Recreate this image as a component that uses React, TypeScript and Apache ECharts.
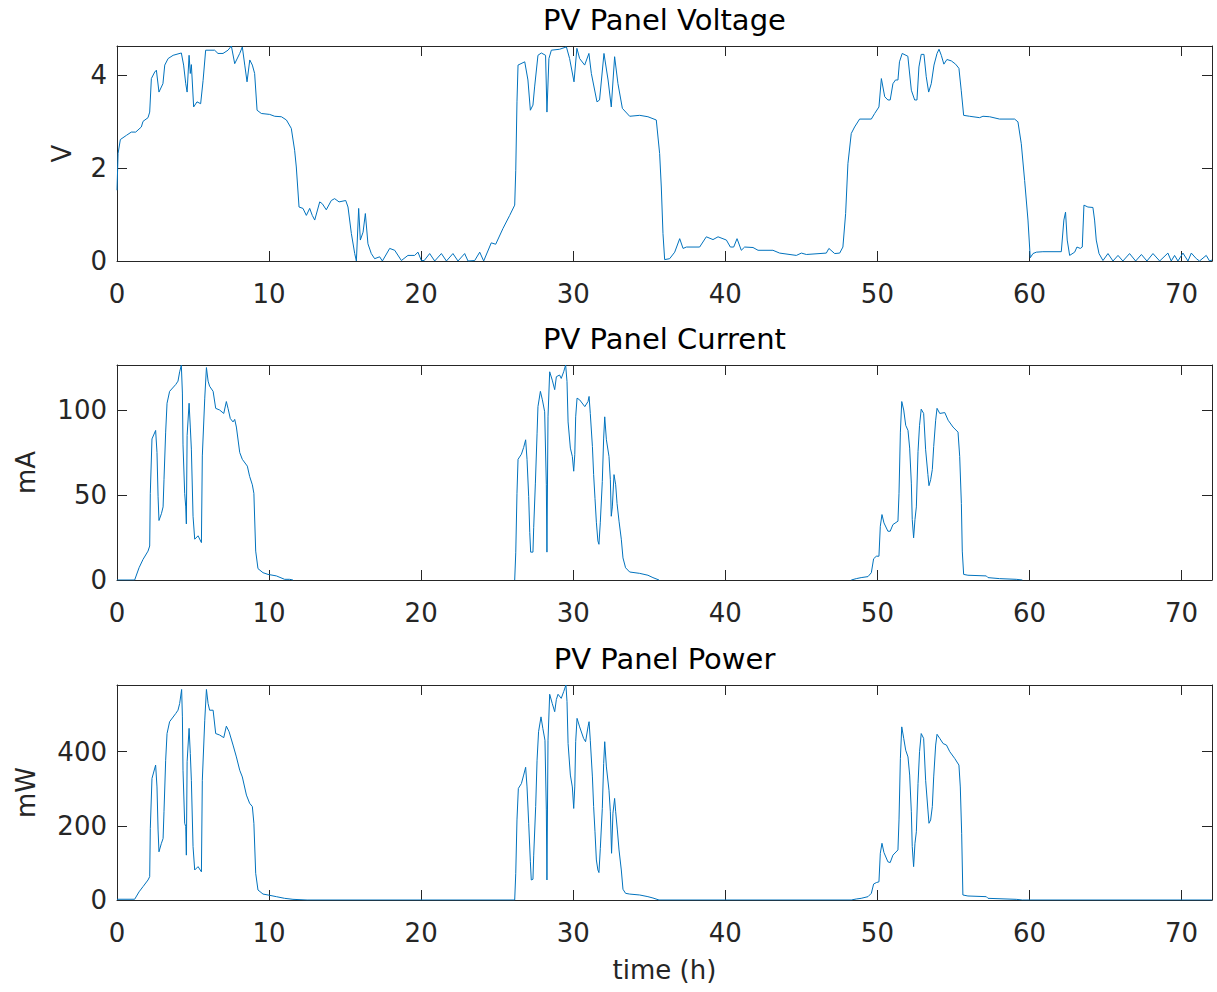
import React, { useEffect, useRef } from "react";
import * as echarts from "echarts";

// ---------- data ----------
const xTicks = [0, 10, 20, 30, 40, 50, 60, 70];
const titles = ["PV Panel Voltage", "PV Panel Current", "PV Panel Power"];
const yNames = ["V", "mA", "mW"];
const yMax = [4.62, 126.5, 580];
const yInterval = [2, 50, 200];

// Voltage [time h, V]
const voltage: [number, number][] = [
  [0, 1.52], [0.07, 2.31], [0.22, 2.61], [0.62, 2.7], [0.94, 2.77], [1.23, 2.77], [1.6, 2.88], [1.71, 3.0],
  [2.04, 3.08], [2.15, 3.2], [2.26, 3.92], [2.48, 4.06], [2.59, 4.1], [2.76, 3.63], [3.02, 3.81], [3.14, 4.21],
  [3.36, 4.35], [3.69, 4.42], [4.23, 4.47], [4.38, 4.21], [4.52, 3.81], [4.61, 3.63], [4.74, 4.42], [4.82, 4.03],
  [4.89, 4.22], [5.04, 3.31], [5.26, 3.42], [5.5, 3.38], [5.66, 3.88], [5.83, 4.53], [6.42, 4.53], [6.64, 4.46],
  [6.97, 4.46], [7.3, 4.53], [7.52, 4.62], [7.74, 4.24], [8.07, 4.46], [8.24, 4.6], [8.4, 4.21], [8.55, 3.85],
  [8.73, 4.32], [8.9, 4.21], [9.05, 4.03], [9.21, 3.24], [9.49, 3.17], [10.04, 3.15], [10.37, 3.11], [10.81, 3.1],
  [11.14, 3.03], [11.46, 2.85], [11.68, 2.38], [11.79, 2.02], [11.97, 1.16], [12.23, 1.13], [12.45, 0.98], [12.67, 1.13],
  [12.84, 0.98], [13.0, 0.88], [13.33, 1.27], [13.5, 1.23], [13.76, 1.1], [14.09, 1.3], [14.31, 1.34], [14.6, 1.27],
  [15.04, 1.3], [15.19, 1.16], [15.41, 0.59], [15.63, 0.16], [15.74, 0], [15.89, 1.13], [16.0, 0.45], [16.18, 0.62],
  [16.33, 1.02], [16.5, 0.37], [16.72, 0.16], [16.94, 0.05], [17.27, 0.09], [17.45, 0], [17.93, 0.27], [18.26, 0.23],
  [18.7, 0.01], [19.13, 0.12], [19.57, 0.12], [19.79, 0.19], [20.01, 0.01], [20.2, 0.01], [20.56, 0.16], [20.89, 0],
  [21.33, 0.16], [21.66, 0], [22.09, 0.16], [22.42, 0], [22.86, 0.16], [23.08, 0], [23.52, 0.01], [23.85, 0.19],
  [24.11, 0], [24.61, 0.39], [24.9, 0.36], [25.38, 0.7], [25.82, 0.98], [26.15, 1.2], [26.22, 1.95], [26.3, 3.42],
  [26.37, 4.21], [26.81, 4.28], [27.02, 3.89], [27.18, 3.24], [27.35, 3.35], [27.46, 3.74], [27.68, 4.42], [27.9, 4.47],
  [28.18, 4.42], [28.27, 3.2], [28.4, 4.35], [28.56, 4.53], [29.1, 4.55], [29.55, 4.6], [29.76, 4.35], [30.05, 3.85],
  [30.24, 4.57], [30.42, 4.35], [30.75, 4.21], [31.03, 4.46], [31.19, 4.03], [31.56, 3.42], [31.73, 3.46], [32.02, 4.46],
  [32.29, 3.89], [32.5, 3.31], [32.72, 4.39], [32.94, 3.81], [33.23, 3.28], [33.71, 3.11], [34.37, 3.13], [34.91, 3.1],
  [35.46, 3.03], [35.68, 2.31], [35.79, 1.59], [35.9, 0.59], [36.01, 0.03], [36.34, 0.05], [36.67, 0.19], [37.0, 0.48],
  [37.22, 0.27], [37.44, 0.3], [38.31, 0.3], [38.75, 0.52], [39.19, 0.46], [39.52, 0.52], [40.07, 0.45], [40.33, 0.3],
  [40.55, 0.3], [40.77, 0.48], [41.05, 0.23], [41.27, 0.3], [41.82, 0.29], [42.15, 0.23], [43.13, 0.23], [43.57, 0.17],
  [44.67, 0.12], [45.0, 0.17], [45.33, 0.14], [46.64, 0.17], [46.81, 0.27], [47.19, 0.16], [47.52, 0.17], [47.73, 0.3],
  [47.91, 1.02], [48.06, 2.09], [48.28, 2.74], [48.5, 2.88], [48.83, 3.05], [49.6, 3.05], [49.82, 3.17], [50.1, 3.31],
  [50.26, 3.92], [50.48, 3.53], [50.69, 3.46], [50.84, 3.46], [51.02, 3.81], [51.19, 3.89], [51.35, 3.89], [51.45, 4.28],
  [51.63, 4.46], [52.0, 4.4], [52.23, 3.67], [52.45, 3.46], [52.6, 3.46], [52.73, 4.17], [52.88, 4.44], [53.06, 4.44],
  [53.21, 3.96], [53.37, 3.63], [53.54, 3.81], [53.72, 4.21], [53.92, 4.46], [54.05, 4.55], [54.2, 4.42], [54.37, 4.23],
  [54.57, 4.33], [54.86, 4.3], [55.14, 4.23], [55.36, 4.14], [55.51, 3.67], [55.67, 3.13], [56.06, 3.11], [56.72, 3.08],
  [56.94, 3.11], [57.38, 3.1], [58.03, 3.05], [59.02, 3.05], [59.24, 2.99], [59.46, 2.52], [59.68, 1.73], [59.9, 0.88],
  [60.05, 0.07], [60.23, 0.16], [60.45, 0.19], [60.88, 0.2], [62.09, 0.2], [62.26, 0.88], [62.37, 1.05], [62.48, 0.45],
  [62.64, 0.12], [62.97, 0.19], [63.12, 0.3], [63.34, 0.27], [63.47, 0.3], [63.58, 1.2], [63.84, 1.16], [64.17, 1.15],
  [64.28, 0.88], [64.39, 0.45], [64.57, 0.16], [64.83, 0.01], [65.16, 0.16], [65.49, 0], [65.82, 0.12], [66.14, 0],
  [66.58, 0.16], [66.98, 0], [67.36, 0.14], [67.72, 0], [68.12, 0.16], [68.56, 0], [69.1, 0.17], [69.32, 0],
  [69.54, 0.12], [69.76, 0], [70.09, 0.17], [70.42, 0], [70.64, 0.17], [70.97, 0.05], [71.18, 0], [71.62, 0.12],
  [71.84, 0], [72.0, 0.02],
];

// Current [time h, mA]; null = no sample drawn
const current: [number, number | null][] = [
  [0, 0], [1.16, 0], [1.45, 7.2], [1.71, 12.1], [2.04, 17], [2.15, 20], [2.19, 51], [2.3, 83], [2.54, 88], [2.63, 75],
  [2.7, 49], [2.76, 35], [2.92, 39], [3.03, 43], [3.09, 59], [3.2, 87], [3.29, 104], [3.46, 111], [3.86, 115], [4.01, 117],
  [4.12, 122.5], [4.23, 126.4], [4.3, 110], [4.34, 79.5], [4.45, 51], [4.52, 43], [4.56, 33], [4.61, 85], [4.74, 104],
  [4.82, 90], [4.89, 77], [5.0, 37.5], [5.11, 24], [5.33, 26], [5.55, 22], [5.61, 73], [5.77, 107], [5.88, 125],
  [5.99, 117], [6.09, 114], [6.32, 111], [6.49, 101], [6.75, 100], [7.02, 98], [7.19, 105], [7.3, 101], [7.45, 95],
  [7.63, 93], [7.74, 94.5], [7.85, 90], [8.07, 75], [8.24, 71], [8.57, 67], [8.72, 61], [8.9, 56], [9.0, 51], [9.12, 17],
  [9.27, 6.7], [9.6, 4.3], [9.93, 3.3], [10.48, 2.4], [11.02, 0.4], [11.35, 0.4], [11.57, 0],
  [18, null],
  [26.15, 0], [26.22, 16], [26.3, 51], [26.37, 71], [26.59, 74], [26.74, 78], [26.87, 82.5], [26.96, 71], [27.07, 49],
  [27.14, 28], [27.2, 16.4], [27.35, 16.4], [27.4, 31], [27.51, 57], [27.62, 86], [27.68, 102], [27.84, 111], [27.97, 106],
  [28.12, 99], [28.23, 56], [28.27, 16.4], [28.34, 96], [28.45, 122.5], [28.62, 117.6], [28.78, 112], [28.89, 119.6],
  [29.1, 120.6], [29.21, 118.6], [29.37, 122.5], [29.5, 126.5], [29.59, 116.7], [29.66, 93], [29.81, 77.6], [29.94, 72.7],
  [30.03, 64], [30.1, 73.7], [30.16, 96], [30.25, 107], [30.42, 106], [30.76, 102], [30.97, 105], [31.04, 108], [31.12, 98],
  [31.26, 78.5], [31.34, 62], [31.43, 48], [31.52, 34], [31.62, 23], [31.69, 21], [31.78, 34], [31.91, 58], [32.0, 83.5],
  [32.07, 96], [32.18, 82.5], [32.35, 72.7], [32.44, 59], [32.5, 37.5], [32.57, 43], [32.68, 62], [32.79, 56], [32.88, 45],
  [33.01, 34.6], [33.16, 24], [33.27, 13], [33.44, 7.2], [33.71, 4.7], [34.37, 3.9], [34.91, 2.8], [35.24, 1.4], [35.64, 0],
  [42, null],
  [48.28, 0], [48.61, 0.8], [48.93, 1.4], [49.38, 2], [49.6, 4.3], [49.75, 12.5], [49.93, 14], [50.1, 14], [50.19, 31.6],
  [50.3, 38.5], [50.43, 33.6], [50.69, 28.7], [50.84, 28.7], [51.02, 32.6], [51.35, 34.6], [51.42, 51], [51.51, 87],
  [51.6, 105], [51.73, 100], [51.86, 91], [52.01, 88], [52.12, 77.6], [52.23, 57], [52.29, 35.6], [52.38, 24.8],
  [52.47, 35.6], [52.56, 43], [52.67, 75.6], [52.77, 91], [52.88, 100.5], [53.04, 98], [53.17, 76.6], [53.32, 62],
  [53.39, 55.5], [53.5, 59], [53.61, 65], [53.7, 78.5], [53.83, 94], [53.92, 101], [54.1, 98], [54.43, 98.5], [54.65, 94],
  [54.97, 90], [55.3, 87], [55.41, 72.7], [55.52, 45], [55.58, 17], [55.67, 3.3], [55.95, 2.8], [57.16, 2.4], [57.27, 1.4],
  [58.03, 0.8], [59.13, 0.4], [59.53, 0],
];

// Power [time h, mW]
const power: [number, number][] = [
  [0, 2], [1.16, 2], [1.45, 22], [1.71, 36], [2.04, 54], [2.15, 63], [2.19, 193], [2.3, 328], [2.54, 364], [2.63, 305],
  [2.7, 189], [2.76, 130], [2.92, 153], [3.03, 166], [3.09, 238], [3.2, 377], [3.29, 449], [3.46, 481], [3.86, 503],
  [4.01, 512], [4.12, 530], [4.25, 568], [4.3, 494], [4.34, 350], [4.45, 207], [4.52, 198], [4.56, 121], [4.61, 373],
  [4.74, 463], [4.82, 395], [4.89, 323], [5.0, 144], [5.11, 81], [5.33, 90], [5.55, 76], [5.61, 323], [5.77, 485],
  [5.88, 568], [5.99, 530], [6.09, 512], [6.32, 512], [6.49, 449], [6.75, 445], [7.02, 438], [7.19, 469], [7.37, 454],
  [7.63, 418], [7.85, 386], [8.07, 350], [8.24, 332], [8.51, 283], [8.72, 261], [8.9, 252], [9.0, 207], [9.12, 72],
  [9.27, 27], [9.6, 16], [9.93, 13.5], [10.48, 9], [11.02, 4.5], [11.57, 1.8], [12.5, 0], [26.15, 0],
  [26.22, 72], [26.3, 216], [26.39, 301], [26.59, 314], [26.74, 337], [26.87, 358], [26.96, 305], [27.07, 207],
  [27.18, 103], [27.24, 54], [27.35, 56], [27.4, 121], [27.53, 252], [27.62, 377], [27.72, 454], [27.88, 494], [28.0, 463],
  [28.14, 431], [28.23, 243], [28.27, 54], [28.34, 431], [28.45, 555], [28.62, 530], [28.78, 508], [28.89, 541], [29.0, 555],
  [29.21, 544], [29.37, 562], [29.52, 580], [29.59, 535], [29.66, 422], [29.81, 337], [29.94, 305], [30.03, 247], [30.1, 305],
  [30.16, 427], [30.25, 490], [30.42, 467], [30.68, 436], [30.81, 427], [30.97, 467], [31.04, 481], [31.12, 431], [31.26, 332],
  [31.34, 252], [31.43, 184], [31.52, 108], [31.62, 81], [31.69, 74], [31.78, 139], [31.91, 247], [32.0, 368], [32.07, 427],
  [32.18, 359], [32.35, 296], [32.44, 238], [32.52, 126], [32.61, 234], [32.72, 274], [32.79, 238], [32.9, 189], [33.01, 135],
  [33.16, 81], [33.27, 29], [33.44, 18], [33.71, 16], [34.37, 13.5], [34.91, 9], [35.24, 5.4], [35.64, 0], [48.28, 0],
  [48.61, 2.7], [48.93, 4.5], [49.38, 9], [49.6, 18], [49.75, 43], [49.93, 47], [50.1, 49], [50.19, 126], [50.3, 153],
  [50.43, 128], [50.69, 103], [50.84, 101], [51.02, 121], [51.35, 135], [51.42, 216], [51.51, 382], [51.6, 467], [51.73, 436],
  [51.86, 404], [52.01, 386], [52.12, 337], [52.23, 238], [52.29, 144], [52.38, 90], [52.47, 153], [52.56, 184], [52.67, 314],
  [52.77, 400], [52.88, 449], [53.04, 436], [53.17, 323], [53.32, 243], [53.39, 207], [53.5, 216], [53.61, 252], [53.7, 332],
  [53.83, 418], [53.92, 447], [54.1, 436], [54.32, 422], [54.54, 418], [54.76, 400], [55.08, 382], [55.36, 364], [55.45, 305],
  [55.54, 180], [55.62, 13.5], [55.95, 10.8], [57.16, 9], [57.27, 4.5], [59.13, 1.8], [59.53, 0], [72, 0],
];

const seriesData = [voltage, current, power];

// ---------- styling ----------
const FONT = "DejaVu Sans";
const AXIS = "#262626";
const LINE = "#0072BD";
const gridTops = [46, 365, 685];
const gridHeight = 215;
const gridLeft = 117;
const gridWidth = 1095;
const yNameGaps = [42, 78, 78];

export default function App() {
  const ref = useRef<HTMLDivElement>(null);

  useEffect(() => {
    if (!ref.current) return;
    const chart = echarts.init(ref.current, undefined, { renderer: "svg" });

    const grid: any[] = [];
    const xAxis: any[] = [];
    const yAxis: any[] = [];
    const series: any[] = [];

    for (let i = 0; i < 3; i++) {
      grid.push({ left: gridLeft, top: gridTops[i], width: gridWidth, height: gridHeight, containLabel: false });
      const lineStyle = { color: AXIS, width: 1 };
      const tick = { show: true, inside: true, length: 10, lineStyle };
      xAxis.push({
        type: "value", gridIndex: i, position: "bottom", min: xTicks[0], max: 72, interval: xTicks[1] - xTicks[0],
        axisLine: { show: true, onZero: false, lineStyle }, axisTick: tick, splitLine: { show: false },
        axisLabel: { show: true, fontSize: 26, fontFamily: FONT, color: AXIS, margin: 20, showMaxLabel: false },
        name: i === 2 ? "time (h)" : "", nameLocation: "middle", nameGap: 57,
        nameTextStyle: { fontSize: 26, fontFamily: FONT, color: AXIS },
      });
      xAxis.push({
        type: "value", gridIndex: i, position: "top", min: xTicks[0], max: 72, interval: xTicks[1] - xTicks[0],
        axisLine: { show: true, onZero: false, lineStyle }, axisTick: tick, splitLine: { show: false },
        axisLabel: { show: false },
        name: titles[i], nameLocation: "middle", nameGap: 12,
        nameTextStyle: { fontSize: 29, fontFamily: FONT, color: "#000" },
      });
      yAxis.push({
        type: "value", gridIndex: i, position: "left", min: 0, max: yMax[i], interval: yInterval[i],
        axisLine: { show: true, onZero: false, lineStyle }, axisTick: tick, splitLine: { show: false },
        axisLabel: { show: true, fontSize: 26, fontFamily: FONT, color: AXIS, margin: 10, showMaxLabel: false },
        name: yNames[i], nameLocation: "middle", nameGap: yNameGaps[i], nameRotate: 90,
        nameTextStyle: { fontSize: 26, fontFamily: FONT, color: AXIS },
      });
      yAxis.push({
        type: "value", gridIndex: i, position: "right", min: 0, max: yMax[i], interval: yInterval[i],
        axisLine: { show: true, onZero: false, lineStyle }, axisTick: tick, splitLine: { show: false },
        axisLabel: { show: false },
      });
      series.push({
        type: "line", xAxisIndex: 2 * i, yAxisIndex: 2 * i, data: seriesData[i],
        showSymbol: false, symbol: "none", connectNulls: false, clip: true,
        lineStyle: { color: LINE, width: 1 },
      });
    }

    chart.setOption({
      animation: false,
      backgroundColor: "#fff",
      textStyle: { fontFamily: FONT },
      grid, xAxis, yAxis, series,
    });
    return () => chart.dispose();
  }, []);

  return (
    <div
      ref={ref}
      style={{ position: "absolute", left: 0, top: 0, width: 1217, height: 992, background: "#fff" }}
    />
  );
}
